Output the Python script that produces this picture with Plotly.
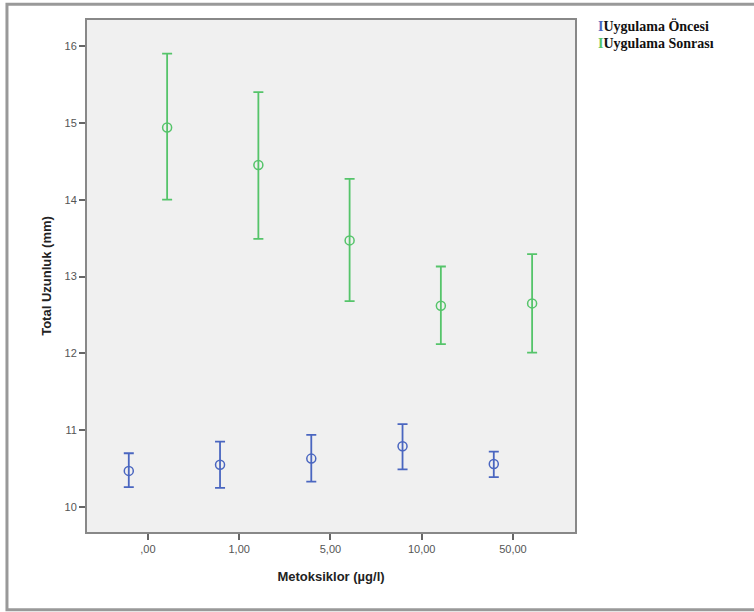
import plotly.graph_objects as go

categories = [",00", "1,00", "5,00", "10,00", "50,00"]

once_mean = [10.47, 10.55, 10.63, 10.79, 10.56]
once_upper = [10.70, 10.85, 10.94, 11.08, 10.72]
once_lower = [10.26, 10.25, 10.33, 10.49, 10.39]

sonra_mean = [14.94, 14.45, 13.47, 12.62, 12.65]
sonra_upper = [15.90, 15.40, 14.27, 13.13, 13.29]
sonra_lower = [14.00, 13.49, 12.68, 12.12, 12.01]

y_ticks = [10, 11, 12, 13, 14, 15, 16]

BLUE = "#4a66c0"
GREEN = "#55c46a"
offset = 0.21
idx = list(range(len(categories)))

fig = go.Figure()

def add_series(name, mean, upper, lower, color, dx):
    fig.add_trace(go.Scatter(
        x=[i + dx for i in idx], y=mean, name=name, mode="markers",
        marker=dict(symbol="circle-open", size=9, color=color, line=dict(width=1.5, color=color)),
        error_y=dict(type="data", symmetric=False,
                     array=[u - m for u, m in zip(upper, mean)],
                     arrayminus=[m - l for m, l in zip(mean, lower)],
                     color=color, thickness=1.8, width=5),
        showlegend=False,
    ))

add_series("Uygulama Öncesi", once_mean, once_upper, once_lower, BLUE, -offset)
add_series("Uygulama Sonrası", sonra_mean, sonra_upper, sonra_lower, GREEN, offset)

fig.update_layout(
    width=754, height=612,
    margin=dict(l=87, r=179, t=20, b=80),
    paper_bgcolor="white",
    plot_bgcolor="#f0f0f0",
    font=dict(family="Liberation Sans, Arial, sans-serif", size=11, color="#555555"),
    xaxis=dict(
        range=[-0.668, 4.68], tickmode="array", tickvals=idx, ticktext=categories,
        showgrid=False, zeroline=False, showline=True, linecolor="#888888", linewidth=2,
        mirror=True, ticks="outside", ticklen=6, tickcolor="#666666", tickwidth=1.5,
        title=dict(text="<b>Metoksiklor (µg/l)</b>", font=dict(size=13, color="#222222"), standoff=18),
    ),
    yaxis=dict(
        range=[9.675, 16.338], tickmode="array", tickvals=y_ticks,
        showgrid=False, zeroline=False, showline=True, linecolor="#888888", linewidth=2,
        mirror=True, ticks="outside", ticklen=6, tickcolor="#666666", tickwidth=1.5,
        title=dict(text="<b>Total Uzunluk (mm)</b>", font=dict(size=13, color="#222222"), standoff=10),
    ),
    shapes=[dict(type="rect", xref="paper", yref="paper",
                 x0=-0.164, x1=1.5, y0=-0.152, y1=1.031,
                 line=dict(color="#999999", width=3), fillcolor="rgba(0,0,0,0)", layer="below")],
    annotations=[
        dict(xref="paper", yref="paper", x=1.043, y=0.988, xanchor="left", yanchor="middle",
             showarrow=False, align="left",
             text=f"<b><span style='color:{BLUE}'>I</span>Uygulama Öncesi</b>",
             font=dict(family="Liberation Serif, Times New Roman, serif", size=14, color="#111111")),
        dict(xref="paper", yref="paper", x=1.043, y=0.955, xanchor="left", yanchor="middle",
             showarrow=False, align="left",
             text=f"<b><span style='color:{GREEN}'>I</span>Uygulama Sonrası</b>",
             font=dict(family="Liberation Serif, Times New Roman, serif", size=14, color="#111111")),
    ],
)

fig.write_html("out.html")
